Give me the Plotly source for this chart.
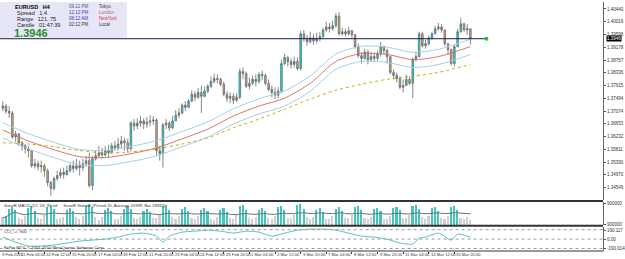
import plotly.graph_objects as go
import pandas as pd

# ---------------- data ----------------
first_open = 1.3717
closes = [1.3724,1.3707,1.3701,1.3622,1.3632,1.3603,1.3593,1.3583,1.3577,1.3527,
          1.3534,1.3524,1.3527,1.3511,1.3472,1.3452,1.3485,1.3495,1.3505,1.3498,
          1.3511,1.3527,1.3518,1.3527,1.3521,1.3534,1.3544,1.3462,1.3550,1.3560,
          1.3570,1.3563,1.3577,1.3570,1.3593,1.3586,1.3599,1.3609,1.3603,1.3583,
          1.3668,1.3658,1.3668,1.3675,1.3665,1.3671,1.3675,1.3678,1.3577,1.3567,
          1.3662,1.3668,1.3652,1.3675,1.3694,1.3701,1.3727,1.3720,1.3740,1.3763,
          1.3753,1.3769,1.3756,1.3773,1.3789,1.3805,1.3815,1.3812,1.3796,1.3763,
          1.3750,1.3756,1.3743,1.3753,1.3838,1.3831,1.3789,1.3799,1.3812,1.3805,
          1.3828,1.3825,1.3799,1.3779,1.3769,1.3760,1.3773,1.3864,1.3884,1.3871,
          1.3861,1.3871,1.3848,1.3962,1.3946,1.3936,1.3949,1.3939,1.3946,1.3953,
          1.3975,1.3985,1.3979,1.3989,1.4021,1.3962,1.3969,1.3962,1.3972,1.3959,
          1.3920,1.3890,1.3881,1.3902,1.3877,1.3887,1.3881,1.3897,1.3920,1.3907,
          1.3887,1.3835,1.3825,1.3815,1.3786,1.3792,1.3812,1.3799,1.3877,1.3887,
          1.3962,1.3923,1.3930,1.3949,1.3962,1.3979,1.3985,1.3975,1.3930,1.3910,
          1.3864,1.3920,1.3969,1.3995,1.3975,1.3979,1.3946]
highs = [1.3740,1.3730,1.3724,1.3707,1.3642,1.3635,1.3609,1.3599,1.3593,1.3577,
         1.3550,1.3544,1.3544,1.3534,1.3518,1.3478,1.3491,1.3511,1.3518,1.3521,
         1.3527,1.3534,1.3544,1.3550,1.3544,1.3550,1.3560,1.3570,1.3560,1.3577,
         1.3593,1.3586,1.3593,1.3596,1.3603,1.3609,1.3619,1.3626,1.3619,1.3616,
         1.3675,1.3681,1.3684,1.3691,1.3684,1.3688,1.3694,1.3691,1.3684,1.3593,
         1.3668,1.3681,1.3675,1.3691,1.3711,1.3717,1.3733,1.3740,1.3747,1.3776,
         1.3773,1.3783,1.3792,1.3789,1.3796,1.3822,1.3831,1.3828,1.3818,1.3805,
         1.3773,1.3769,1.3766,1.3766,1.3848,1.3851,1.3838,1.3818,1.3825,1.3828,
         1.3835,1.3841,1.3831,1.3812,1.3792,1.3786,1.3786,1.3877,1.3897,1.3890,
         1.3881,1.3887,1.3884,1.3972,1.3975,1.3959,1.3969,1.3962,1.3966,1.3969,
         1.3982,1.4002,1.3998,1.4005,1.4031,1.4034,1.3982,1.3979,1.3985,1.3975,
         1.3962,1.3930,1.3902,1.3913,1.3910,1.3902,1.3900,1.3907,1.3936,1.3923,
         1.3913,1.3887,1.3845,1.3835,1.3822,1.3812,1.3828,1.3822,1.3884,1.3902,
         1.3969,1.3969,1.3943,1.3956,1.3969,1.3989,1.3998,1.3995,1.3975,1.3930,
         1.3913,1.3926,1.3979,1.4015,1.3998,1.3995,1.3959]
lows = [1.3707,1.3698,1.3684,1.3616,1.3606,1.3593,1.3577,1.3567,1.3554,1.3521,
        1.3518,1.3511,1.3505,1.3491,1.3459,1.3429,1.3446,1.3478,1.3485,1.3485,
        1.3495,1.3505,1.3505,1.3511,1.3495,1.3511,1.3524,1.3455,1.3446,1.3544,
        1.3554,1.3550,1.3557,1.3554,1.3567,1.3577,1.3577,1.3583,1.3577,1.3570,
        1.3577,1.3642,1.3648,1.3655,1.3648,1.3652,1.3658,1.3662,1.3560,1.3544,
        1.3521,1.3648,1.3642,1.3648,1.3678,1.3684,1.3698,1.3707,1.3717,1.3737,
        1.3740,1.3747,1.3701,1.3753,1.3766,1.3783,1.3799,1.3799,1.3789,1.3756,
        1.3737,1.3733,1.3730,1.3737,1.3747,1.3812,1.3783,1.3779,1.3792,1.3789,
        1.3799,1.3809,1.3792,1.3773,1.3753,1.3747,1.3750,1.3766,1.3858,1.3854,
        1.3848,1.3851,1.3841,1.3841,1.3936,1.3923,1.3930,1.3926,1.3930,1.3936,
        1.3949,1.3969,1.3966,1.3972,1.3982,1.3956,1.3956,1.3953,1.3956,1.3949,
        1.3913,1.3884,1.3864,1.3877,1.3861,1.3871,1.3871,1.3874,1.3887,1.3894,
        1.3864,1.3828,1.3812,1.3802,1.3779,1.3769,1.3792,1.3792,1.3750,1.3871,
        1.3884,1.3917,1.3913,1.3923,1.3943,1.3962,1.3972,1.3966,1.3923,1.3894,
        1.3858,1.3854,1.3917,1.3966,1.3969,1.3959,1.3926]

band_idx = [0, 8, 16, 24, 32, 40, 48, 56, 64, 72, 80, 88, 96, 104, 112, 120, 128, 136, 146]
band_mid = [1.3645,1.3609,1.3580,1.3557,1.3554,1.3567,1.3586,1.3616,1.3648,1.3691,
            1.3724,1.3750,1.3799,1.3871,1.3897,1.3894,1.3877,1.3887,1.3920]
band_up = [1.3669,1.3633,1.3604,1.3581,1.3578,1.3591,1.3610,1.3640,1.3672,1.3715,
           1.3748,1.3774,1.3823,1.3895,1.3921,1.3918,1.3901,1.3911,1.3944]
band_lo = [1.3619,1.3583,1.3554,1.3531,1.3528,1.3541,1.3560,1.3590,1.3622,1.3665,
           1.3698,1.3724,1.3773,1.3845,1.3871,1.3868,1.3851,1.3861,1.3894]
slow_ma = [1.3603,1.3599,1.3590,1.3577,1.3570,1.3573,1.3583,1.3599,1.3619,1.3652,
           1.3681,1.3714,1.3747,1.3776,1.3796,1.3812,1.3822,1.3835,1.3861]

volumes = [15,18,31,35,29,13, 12,17,33,38,27,14, 11,19,36,40,31,12, 13,16,30,34,28,15,
           12,18,38,42,35,16, 10,15,29,33,27,12, 11,17,32,37,31,14, 12,16,28,31,26,13,
           14,20,37,40,30,15, 11,17,31,35,28,13, 12,18,30,34,27,12, 10,16,29,33,25,13,
           12,19,37,39,30,14, 11,16,30,34,27,13, 12,18,36,38,30,14, 13,20,39,41,31,15,
           11,16,30,33,26,12, 12,18,32,36,28,13, 13,19,35,37,29,14, 11,16,31,34,27,12,
           12,18,34,36,30,14, 13,20,38,40,31,15, 12,17,33,36,28,13, 12,18,35,37,29,14,
           12,16,9]
volumes = [v * 1000 for v in volumes]

cci_idx = [0,4,8,12,16,20,24,28,32,36,40,44,48,50,52,56,60,64,68,72,
           76,80,84,88,92,96,100,104,108,112,116,120,124,128,130,132,136,140,142,146]
cci_val = [42,-63,-148,-148,-127,-84,-42,-21,0,42,106,127,63,-63,63,148,169,190,169,127,
           169,148,63,127,190,211,211,190,127,63,42,0,-84,-106,21,42,127,-21,106,42]

price_ticks = [1.40440,1.40019,1.39598,1.39178,1.38757,1.38336,1.37915,1.37494,
               1.37074,1.36653,1.36232,1.35811,1.35390,1.34970,1.34549,1.34128]
date_labels = ["11 Feb 04:00","14 Feb 12:00","15 Feb 20:00","17 Feb 04:00","18 Feb 12:00",
               "21 Feb 20:00","23 Feb 04:00","24 Feb 12:00","25 Feb 20:00","1 Mar 04:00",
               "2 Mar 12:00","3 Mar 20:00","7 Mar 04:00","8 Mar 12:00","9 Mar 20:00",
               "11 Mar 04:00","14 Mar 12:00","15 Mar 20:00"]
date_idx = [5 + 8 * k for k in range(len(date_labels))]

# ---------------- derived ----------------
n = len(closes)
idx = list(range(n))
opens = [first_open] + closes[:-1]
highs = [max(h, o, c) for h, o, c in zip(highs, opens, closes)]
lows = [min(l, o, c) for l, o, c in zip(lows, opens, closes)]
last = closes[-1]

FONT = "Liberation Sans"
fig = go.Figure()

groups = {"bull": ([], "#00e8ef"), "bear": ([], "#d6aa70"), "small": ([], "#9a9a9a")}
for i in idx:
    b = closes[i] - opens[i]
    if b >= 0.0012:
        groups["bull"][0].append(i)
    elif b <= -0.0012:
        groups["bear"][0].append(i)
    else:
        groups["small"][0].append(i)

for name, (sel, fill) in groups.items():
    lc = "#6a6a6a"
    fig.add_trace(go.Candlestick(
        x=sel, open=[opens[i] for i in sel], high=[highs[i] for i in sel],
        low=[lows[i] for i in sel], close=[closes[i] for i in sel],
        increasing=dict(fillcolor=fill, line=dict(color=lc, width=0.8)),
        decreasing=dict(fillcolor=fill, line=dict(color=lc, width=0.8)),
        whiskerwidth=0, showlegend=False, hoverinfo="skip", xaxis="x", yaxis="y"))

# bands
for arr, col, dash in [(band_up, "#a4cfe8", "solid"), (band_mid, "#d87474", "solid"),
                       (band_lo, "#a4cfe8", "solid"), (slow_ma, "#c9b300", "dot")]:
    fig.add_trace(go.Scatter(x=band_idx, y=arr, mode="lines",
                             line=dict(color=col, width=1, dash=dash, shape="spline", smoothing=0.8),
                             showlegend=False, hoverinfo="skip", xaxis="x", yaxis="y"))

# current price line + dot
fig.add_trace(go.Scatter(x=[-1, n + 4], y=[last, last], mode="lines",
                         line=dict(color="#1c1c50", width=1), showlegend=False,
                         hoverinfo="skip", xaxis="x", yaxis="y"))
fig.add_trace(go.Scatter(x=[n + 4], y=[last], mode="markers",
                         marker=dict(color="#22c022", size=4), showlegend=False,
                         hoverinfo="skip", xaxis="x", yaxis="y"))

# volume
vol_ma = pd.Series(volumes).rolling(20, min_periods=1).mean().tolist()
vcols = ["#45c4bd" if v > m else "#cfcfcf" for v, m in zip(volumes, vol_ma)]
fig.add_trace(go.Bar(x=idx, y=volumes, marker=dict(color=vcols, line=dict(width=0)),
                     width=0.5, showlegend=False, hoverinfo="skip", xaxis="x", yaxis="y2"))
fig.add_trace(go.Scatter(x=idx, y=vol_ma, mode="lines", line=dict(color="#707070", width=1),
                         showlegend=False, hoverinfo="skip", xaxis="x", yaxis="y2"))

# CCI
fig.add_trace(go.Scatter(x=cci_idx, y=cci_val, mode="lines",
                         line=dict(color="#5cc0c0", width=1, shape="spline", smoothing=0.6),
                         showlegend=False, hoverinfo="skip", xaxis="x", yaxis="y3"))
for lvl in [200, 0, -200]:
    fig.add_trace(go.Scatter(x=[-1, 188], y=[lvl, lvl], mode="lines",
                             line=dict(color="#9a9a9a", width=1, dash="dot"),
                             showlegend=False, hoverinfo="skip", xaxis="x", yaxis="y3"))

H = 251.0
def py(p):
    return (H - p) / H

tickfont = dict(family=FONT, size=4.5, color="#333")
fig.update_layout(
    width=625, height=259, margin=dict(l=0, r=16, t=0, b=8),
    paper_bgcolor="white", plot_bgcolor="white", bargap=0,
    xaxis=dict(range=[-0.87, 187.4], domain=[0, 1], anchor="y3", showgrid=False, zeroline=False,
               tickvals=date_idx, showticklabels=False, ticks="outside", ticklen=2,
               tickcolor="#333", rangeslider=dict(visible=False), fixedrange=True),
    yaxis=dict(domain=[py(200), 1], range=[1.34130, 1.40670], side="right", anchor="x",
               tickvals=price_ticks, ticktext=[f"{t:.5f}" for t in price_ticks],
               tickfont=tickfont, ticks="outside", ticklen=2, tickcolor="#555",
               showgrid=False, zeroline=False, showline=True, linecolor="#666", linewidth=1),
    yaxis2=dict(domain=[py(225), py(202)], range=[0, 46000], side="right", anchor="x",
                tickvals=[44500, 1500], ticktext=["900000", "900000"], tickfont=tickfont,
                ticks="outside", ticklen=2, tickcolor="#555",
                showgrid=False, zeroline=False, showline=True, linecolor="#666", linewidth=1),
    yaxis3=dict(domain=[0, py(227)], range=[-253, 253], side="right", anchor="x",
                tickvals=[190.117, 0, -190.014], ticktext=["190.117", "0.00", "-190.014"],
                tickfont=tickfont, ticks="outside", ticklen=2, tickcolor="#555",
                showgrid=False, zeroline=False, showline=True, linecolor="#666", linewidth=1),
)

shapes = []
# info box
shapes.append(dict(type="rect", xref="paper", yref="paper", x0=0, x1=128 / 609, y0=py(36), y1=1,
                   fillcolor="#e6e6f6", line=dict(width=0), layer="above"))
# panel separators
for p, w in [(200.5, 2), (225.5, 2), (251, 1)]:
    shapes.append(dict(type="line", xref="paper", yref="paper", x0=0, x1=1, y0=py(p), y1=py(p),
                       line=dict(color="#333", width=w)))
fig.update_layout(shapes=shapes)

ann = []
def txt(x_px, y_px, s, size=5, color="#111", bold=False):
    if bold:
        s = "<b>" + s + "</b>"
    ann.append(dict(xref="paper", yref="paper", x=x_px / 609, y=py(y_px), text=s, showarrow=False,
                    xanchor="left", yanchor="middle", font=dict(family=FONT, size=size, color=color)))

txt(13, 5, "EURUSD   H4", 5.5, "#000", True)
txt(15, 11.5, "Spread   1.4", 5.5, "#222")
txt(15, 17.5, "Range   121, 75", 5.5, "#222")
txt(15, 23.5, "Candle   01:47:39", 5.5, "#222")
txt(12, 31, "1.3946", 11, "#2e8b2e", True)
txt(68, 5, "09:12 PM", 4.5, "#55556a")
txt(68, 11, "12:12 PM", 4.5, "#3a3ad0")
txt(68, 17, "08:12 AM", 4.5, "#3a3ab0")
txt(68, 23, "02:12 PM", 4.5, "#333")
txt(98, 5, "Tokyo", 4.5, "#333")
txt(98, 11, "London", 4.5, "#d05a80")
txt(98, 17, "NewYork", 4.5, "#d03a3a")
txt(98, 23, "Local", 4.5, "#333")

txt(2, 205.5, "SuneR MACD (12, 26, 9)  off     SuneR Volume (Period 20, Average 20999, Bar 18592)", 4.2, "#333")
txt(2, 231.5, "CCI_+/- 900", 4.2, "#333")
txt(2, 247.5, "FxPro MT4, © 2001-2010 MetaQuotes Software Corp.", 4.2, "#333")

# date labels
dfont = dict(family=FONT, size=4.2, color="#333")
ann.append(dict(xref="paper", yref="paper", x=0, y=py(255), text="9 Feb 2011", showarrow=False,
                xanchor="left", yanchor="middle", font=dfont))
for xi, lab in zip(date_idx, date_labels):
    ann.append(dict(xref="x", yref="paper", x=xi, y=py(255), text=lab, showarrow=False,
                    xanchor="left", yanchor="middle", font=dfont))

# price highlight
ann.append(dict(xref="paper", yref="y", x=1.0, y=last, xshift=3, text=f"{last:.4f}", showarrow=False,
                xanchor="left", yanchor="middle", bgcolor="#000", borderpad=0,
                font=dict(family=FONT, size=4.5, color="#fff")))
fig.update_layout(annotations=ann)

fig.write_html("out.html")
